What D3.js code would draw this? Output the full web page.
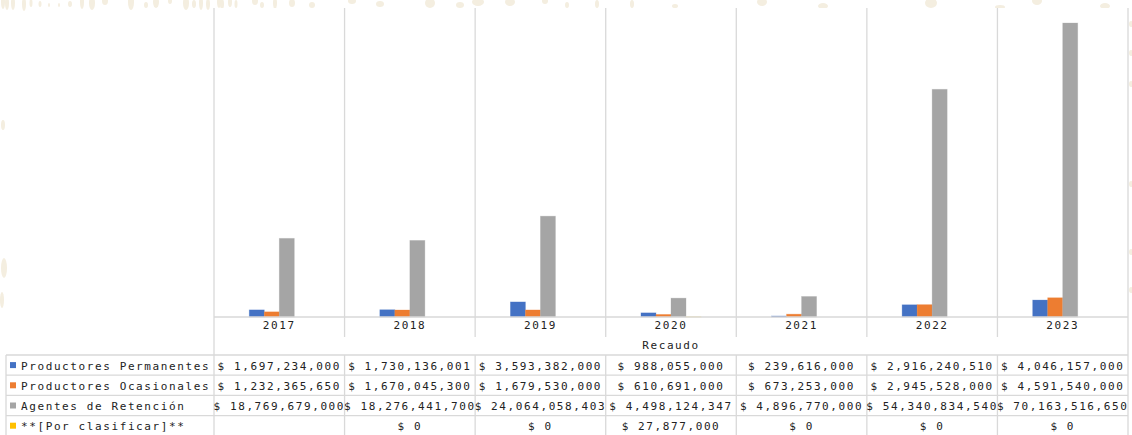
<!DOCTYPE html>
<html>
<head>
<meta charset="utf-8">
<script src="https://cdn.jsdelivr.net/npm/d3@7/dist/d3.min.js"></script>
<style>
  html, body { margin: 0; padding: 0; background: #ffffff; }
  svg { display: block; }
  text { font-family: "DejaVu Sans Mono", monospace; font-size: 11px; letter-spacing: 1.6px; fill: #222; }
</style>
</head>
<body>
<svg id="chart" width="1132" height="435"></svg>
<script>
const years = ['2017', '2018', '2019', '2020', '2021', '2022', '2023'];
const seriesNames = ['Productores Permanentes', 'Productores Ocasionales', 'Agentes de Retención', '**[Por clasificar]**'];
const permanentes = [1697234000, 1730136001, 3593382000, 988055000, 239616000, 2916240510, 4046157000];
const ocasionales = [1232365650, 1670045300, 1679530000, 610691000, 673253000, 2945528000, 4591540000];
const agentes = [18769679000, 18276441700, 24064058403, 4498124347, 4896770000, 54340834540, 70163516650];
const porClasificar = [null, 0, 0, 27877000, 0, 0, 0];
const colors = ['#4472C4', '#ED7D31', '#A5A5A5', '#FFC000'];
const axisTitle = 'Recaudo';
const yMax = 73.75e9;

const seriesValues = [permanentes, ocasionales, agentes, porClasificar];

const svg = d3.select('#chart');
const W = 1132, H = 435;
const plot = { left: 214, right: 1128, top: 8, bottom: 317 };
const labelRowBottom = 337;
const tableTop = 355;
const rowH = 20.2;
const tableLeft = 6;

// faint background decoration
const deco = svg.append('g').attr('fill', '#F4EEE0');
const decoTop = [[3,2,2,7],[7,3,2,7],[13,3,2,7],[24,4,2,7],[31,3,1.5,4],[40,4,1.5,3],[49,5,1,2],[59,5,1,2],[70,4,2,3],[82,2,2,7],[92,3,3,7],[105,1,3,4],[131,2,3,8],[146,5,2,3],[156,2,3,6],[170,1,2,3],[186,3,3,7],[194,4,2,4],[201,3,2,7],[208,4,2,6],[219,2,2,6],[222,4,2,5],[230,2,2,5],[236,4,1.5,4],[255,1,3,4],[262,5,2,3],[275,3,2,6],[292,3,3,4],[312,5,3,3],[352,1,4,3],[380,4,4,3],[430,3,5,5],[460,5,4,3],[478,2,6,4],[510,2,5,4],[545,1,3,3],[567,5,2,3],[597,4,2,4],[632,4,2,4],[675,6,3,2],[762,2,5,4],[823,6,5,3],[931,3,6,5],[1000,7,5,2],[1037,1,5,4],[1105,6,5,3]];
deco.selectAll('ellipse.t').data(decoTop).join('ellipse')
  .attr('cx', d => d[0]).attr('cy', d => d[1]).attr('rx', d => d[2]).attr('ry', d => d[3]);
deco.selectAll('ellipse.r').data([[1131,24,2,3],[1131,53,2,3],[1131,84,2,3],[1131,184,2,3],[1131,252,2,3],[1131,290,2,3],[3,125,2,5],[4,268,3,10],[2,300,2,8]]).enter().append('ellipse')
  .attr('cx', d => d[0]).attr('cy', d => d[1]).attr('rx', d => d[2]).attr('ry', d => d[3]);
svg.append('rect').attr('x', plot.left).attr('y', plot.top).attr('width', plot.right - plot.left).attr('height', H - plot.top).attr('fill', '#fff');

const x = d3.scaleBand().domain(years).range([plot.left, plot.right]).padding(0);
const groupW = x.bandwidth() * 0.46;
const xs = d3.scaleBand().domain(d3.range(seriesNames.length)).range([0, groupW]).padding(0);
const y = d3.scaleLinear().domain([0, yMax]).range([plot.bottom, plot.top]);

const grid = '#D9D9D9';
const g = svg.append('g');

// vertical category gridlines
const bounds = years.map(d => x(d)).concat([plot.right]);
g.selectAll('line.vg').data(bounds).join('line')
  .attr('x1', d => d).attr('x2', d => d)
  .attr('y1', plot.top)
  .attr('y2', (d, i) => (i === 0 || i === bounds.length - 1) ? H : labelRowBottom)
  .attr('stroke', grid).attr('stroke-width', 1.3);

// bars
seriesValues.forEach((vals, si) => {
  g.selectAll('rect.s' + si).data(years.map((yr, i) => ({ yr, v: vals[i] })).filter(d => d.v !== null && d.v > 0))
    .join('rect')
    .attr('x', d => x(d.yr) + (x.bandwidth() - groupW) / 2 + xs(si))
    .attr('width', xs.bandwidth())
    .attr('y', d => y(d.v))
    .attr('height', d => y(0) - y(d.v))
    .attr('fill', colors[si])
    .attr('stroke', colors[si]).attr('stroke-opacity', 0.35).attr('stroke-width', 0.8);
});

// x axis line
g.append('line').attr('x1', plot.left).attr('x2', plot.right).attr('y1', plot.bottom).attr('y2', plot.bottom)
  .attr('stroke', grid).attr('stroke-width', 1.5);

// category labels
g.selectAll('text.cat').data(years).join('text')
  .attr('x', d => x(d) + x.bandwidth() / 2).attr('y', 329)
  .attr('text-anchor', 'middle').attr('font-size', '12px').text(d => d);

// axis title
g.append('text').attr('x', (plot.left + plot.right) / 2).attr('y', 349)
  .attr('text-anchor', 'middle').text(axisTitle);

// table
const fmt = v => '$ ' + d3.format(',')(v);
for (let r = 0; r <= seriesNames.length; r++) {
  const yy = tableTop + r * rowH;
  g.append('line').attr('x1', tableLeft).attr('x2', plot.right).attr('y1', yy).attr('y2', yy)
    .attr('stroke', grid).attr('stroke-width', 1.3);
}
g.append('line').attr('x1', tableLeft).attr('x2', tableLeft).attr('y1', tableTop).attr('y2', H)
  .attr('stroke', grid).attr('stroke-width', 1.3);
g.selectAll('line.tv').data(bounds.slice(1, -1)).join('line')
  .attr('x1', d => d).attr('x2', d => d).attr('y1', tableTop).attr('y2', H)
  .attr('stroke', grid).attr('stroke-width', 1.3);

seriesNames.forEach((name, si) => {
  const cy = tableTop + si * rowH + rowH / 2;
  g.append('rect').attr('x', 10).attr('y', cy - 3).attr('width', 6).attr('height', 6).attr('fill', colors[si]);
  g.append('text').attr('x', 21).attr('y', cy + 4.5).text(name);
  seriesValues[si].forEach((v, i) => {
    if (v === null) return;
    g.append('text').attr('x', x(years[i]) + x.bandwidth() / 2).attr('y', cy + 4.5)
      .attr('text-anchor', 'middle').text(fmt(v));
  });
});
</script>
</body>
</html>
